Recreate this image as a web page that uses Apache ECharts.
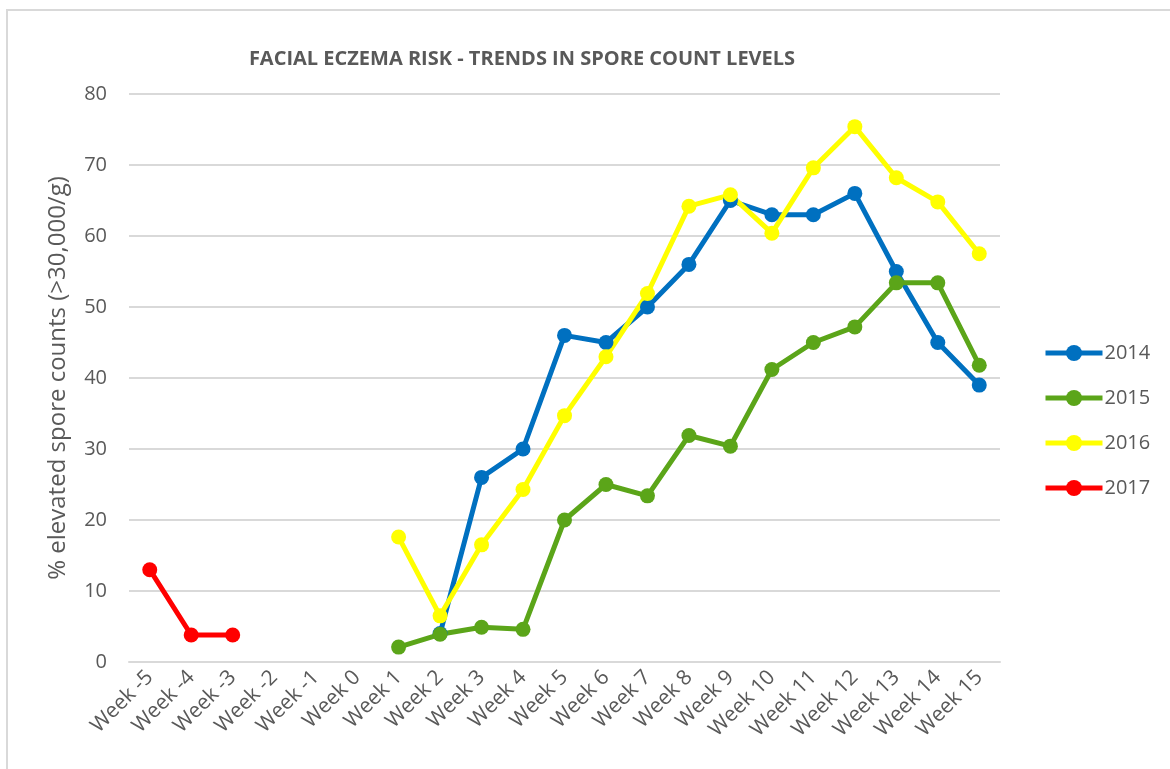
<!DOCTYPE html>
<html>
<head>
<meta charset="utf-8">
<script src="https://cdn.jsdelivr.net/npm/echarts@6/dist/echarts.min.js"></script>
<style>
  html, body { margin: 0; padding: 0; background: #fff; }
  #chart { width: 1170px; height: 769px; }
</style>
</head>
<body>
<div id="chart"></div>
<script>
  // weeks
  var weeks = ['Week -5', 'Week -4', 'Week -3', 'Week -2', 'Week -1', 'Week 0',
    'Week 1', 'Week 2', 'Week 3', 'Week 4', 'Week 5', 'Week 6', 'Week 7', 'Week 8',
    'Week 9', 'Week 10', 'Week 11', 'Week 12', 'Week 13', 'Week 14', 'Week 15']

  var y2014 = [null, null, null, null, null, null, null, 4, 26, 30, 46, 45, 50, 56, 65, 63, 63, 66, 55, 45, 39]
  var y2015 = [null, null, null, null, null, null, 2.1, 3.9, 4.9, 4.6, 20, 25, 23.4, 31.9, 30.4, 41.2, 45, 47.2, 53.4, 53.4, 41.8]
  var y2016 = [null, null, null, null, null, null, 17.6, 6.5, 16.5, 24.3, 34.7, 43, 51.9, 64.2, 65.8, 60.4, 69.6, 75.4, 68.2, 64.8, 57.5]
  var y2017 = [13, 3.8, 3.8, null, null, null, null, null, null, null, null, null, null, null, null, null, null, null, null, null, null]

  var textColor = '#595959'
  var font = "'Open Sans', 'Liberation Sans', sans-serif"

  function makeSeries(name, color, data) {
    return {
      name: name,
      type: 'line',
      data: data,
      symbol: 'circle',
      symbolSize: 15,
      lineStyle: { width: 5, color: color },
      itemStyle: { color: color },
      emphasis: { disabled: true }
    }
  }

  var chart = echarts.init(document.getElementById('chart'))
  var option = {
    animation: false,
    textStyle: { fontFamily: font },
    graphic: [{
      type: 'rect',
      z: -10,
      shape: { x: 7, y: 10, width: 1300, height: 900 },
      style: { fill: 'none', stroke: '#d9d9d9', lineWidth: 2 }
    }],
    title: {
      text: 'FACIAL ECZEMA RISK - TRENDS IN SPORE COUNT LEVELS',
      left: 517,
      top: 44,
      textAlign: 'center',
      textStyle: { fontSize: 20, fontWeight: 'bold', color: textColor, fontFamily: font }
    },
    grid: {
      left: 129,
      right: 170,
      top: 94,
      bottom: 107
    },
    legend: {
      orient: 'vertical',
      left: 1038,
      top: 338,
      itemGap: 25,
      itemWidth: 57,
      itemHeight: 20,
      lineStyle: { width: 5 },
      textStyle: { fontSize: 20, color: textColor, fontFamily: font, padding: [0, 0, 0, -3] },
      data: ['2014', '2015', '2016', '2017']
    },
    xAxis: {
      type: 'category',
      data: weeks,
      boundaryGap: true,
      axisLine: { lineStyle: { color: '#d9d9d9', width: 2 } },
      axisTick: { show: false },
      axisLabel: {
        rotate: 45,
        interval: 0,
        fontSize: 21,
        color: textColor,
        margin: 12
      }
    },
    yAxis: {
      type: 'value',
      min: 0,
      max: 80,
      interval: 10,
      name: '% elevated spore counts (>30,000/g)',
      nameLocation: 'middle',
      nameGap: 59,
      nameTextStyle: { fontSize: 24, color: textColor },
      axisLine: { show: false },
      axisTick: { show: false },
      axisLabel: { fontSize: 20, color: textColor, margin: 22 },
      splitLine: { lineStyle: { color: '#d9d9d9', width: 2 } }
    },
    series: [
      makeSeries('2014', '#0070c0', y2014),
      makeSeries('2015', '#5ba519', y2015),
      makeSeries('2016', '#ffff00', y2016),
      makeSeries('2017', '#ff0000', y2017)
    ]
  }
  chart.setOption(option)
</script>
</body>
</html>
